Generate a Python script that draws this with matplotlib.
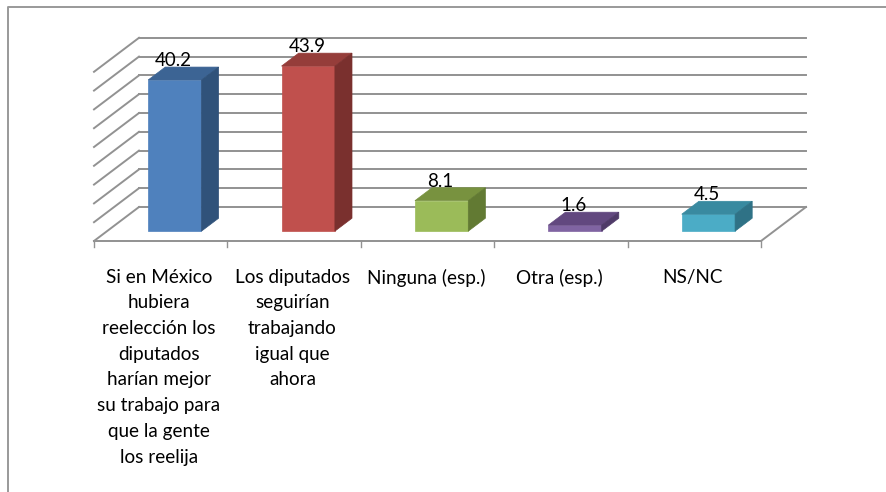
import matplotlib
matplotlib.use('Agg')
import matplotlib.pyplot as plt
from matplotlib.patches import Polygon

categorias = ['Si en México\nhubiera\nreelección los\ndiputados\nharían mejor\nsu trabajo para\nque la gente\nlos reelija',
              'Los diputados\nseguirían\ntrabajando\nigual que\nahora',
              'Ninguna (esp.)',
              'Otra (esp.)',
              'NS/NC']
valores = [40.2, 43.9, 8.1, 1.6, 4.5]
grid_valores = [0, 5, 10, 15, 20, 25, 30, 35, 40, 45]

frente = ['#4f81bd', '#c0504d', '#9bbb59', '#8064a2', '#4bacc6']
techo = ['#3c6494', '#953d3a', '#78923f', '#62487f', '#398aa0']
lado = ['#30527a', '#7a302e', '#627a33', '#4f3a68', '#2f7286']

plt.rcParams['font.family'] = ['Lato', 'DejaVu Sans']

W, H = 886, 492
fig = plt.figure(figsize=(W / 100, H / 100), dpi=100)

# ejes con la escala real: categorias en x, porcentaje en y
x0, x1, y0 = 94, 761, 241
px_por_unidad = 3.76
ax = fig.add_axes([x0 / W, 1 - y0 / H, (x1 - x0) / W, 190 / H])
ax.set_xlim(0, len(valores))
ax.set_ylim(0, 190 / px_por_unidad)
ax.axis('off')

# profundidad del grafico 3d, en unidades de los ejes
dx = 45 / ((x1 - x0) / len(valores))
dy = 34 / px_por_unidad
gris = '#929292'

def proy(x, y, d):
    return (x + d * dx, y + d * dy)

for g in grid_valores:
    a = proy(0, g, 0)
    b = proy(0, g, 1)
    c = proy(len(valores), g, 1)
    ax.plot([a[0], b[0]], [a[1], b[1]], color=gris, lw=1.4, clip_on=False, zorder=1)
    ax.plot([b[0], c[0]], [b[1], c[1]], color=gris, lw=1.4, clip_on=False, zorder=1)

# piso
p = proy(len(valores), 0, 1)
ax.plot([0, len(valores), p[0]], [0, 0, p[1]], color=gris, lw=1.4, clip_on=False, zorder=1)
for i in range(len(valores) + 1):
    ax.plot([i, i], [0, -6 / px_por_unidad], color=gris, lw=1, clip_on=False, zorder=1)

# barras
ancho = 0.4
d1, d2 = 0.29, 0.67
for i, v in enumerate(valores):
    izq = i + 0.5 - ancho / 2 + 0.008
    der = izq + ancho
    ax.add_patch(Polygon([proy(izq, 0, d1), proy(der, 0, d1), proy(der, v, d1), proy(izq, v, d1)],
                         color=frente[i], zorder=3, clip_on=False, lw=0.5))
    ax.add_patch(Polygon([proy(izq, v, d1), proy(der, v, d1), proy(der, v, d2), proy(izq, v, d2)],
                         color=techo[i], zorder=3, clip_on=False, lw=0.5))
    ax.add_patch(Polygon([proy(der, 0, d1), proy(der, 0, d2), proy(der, v, d2), proy(der, v, d1)],
                         color=lado[i], zorder=3, clip_on=False, lw=0.5))
    tx, ty = proy(i + 0.5, v, d2)
    ax.annotate(str(v), (tx, ty), xytext=(-12.5, -1.5), textcoords='offset points',
                ha='center', va='bottom', fontsize=13.5, color='black', zorder=4)
    ax.annotate(categorias[i], (i + 0.5, 0), xytext=(-1.2, -20), textcoords='offset points',
                ha='center', va='top', fontsize=13.6, color='black', linespacing=1.62,
                annotation_clip=False)

# marco del grafico
fig.add_artist(plt.Line2D([8 / W, 8 / W, 1], [0, 1 - 7 / H, 1 - 7 / H], color='#999999', lw=1.4))

fig.savefig('out.png', dpi=100)
